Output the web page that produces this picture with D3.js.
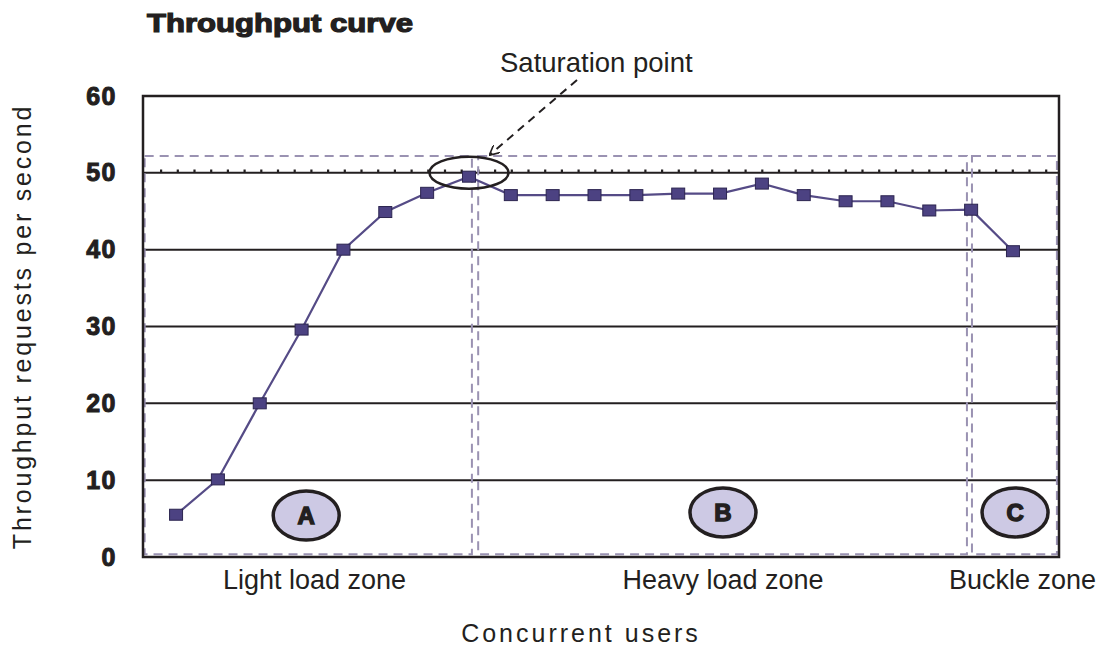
<!DOCTYPE html>
<html>
<head>
<meta charset="utf-8">
<script src="https://cdn.jsdelivr.net/npm/d3@7"></script>
<style>
  body { margin: 0; background: #fff; }
  svg { display: block; }
</style>
</head>
<body>
<div id="myChart"></div>
<script>
// data
const users = d3.range(1, 22); // 21 measurement steps
const throughput = [5.5, 10.1, 20, 29.6, 40, 44.9, 47.4, 49.5, 47.1, 47.1, 47.1, 47.1,
  47.3, 47.3, 48.6, 47.1, 46.3, 46.3, 45.1, 45.2, 39.8];
const yTicks = [0, 10, 20, 30, 40, 50, 60];
const capacity = 50;

// zones in data units: [from step, to step]
const zoneNames = ['Light load zone', 'Heavy load zone', 'Buckle zone'];
const zoneLetters = ['A', 'B', 'C'];
const zoneSpans = [[0.25, 8.07], [8.22, 19.9], [20.02, 22.05]];
const zoneTop = 52.2, zoneBottom = 0.35;
const letterPos = [[4.11, 5.4], [14.07, 5.8], [21.05, 5.8]];
const zoneLabelX = [4.31, 14.07, 21.23];

const saturationStep = 8;

const width = 1103, height = 655;
const margin = { left: 143, right: 44, top: 96, bottom: 98 };

const svg = d3.select('#myChart')
  .append('svg')
  .attr('width', width)
  .attr('height', height);

const x = d3.scaleLinear()
  .domain([0.21, 22.1])
  .range([margin.left, width - margin.right]);
const y = d3.scaleLinear()
  .domain([0, 60])
  .range([height - margin.bottom, margin.top]);

const ink = '#231f20';
const purple = '#4c4282';

// title
svg.append('text')
  .attr('x', 147).attr('y', 32)
  .attr('font-family', 'Liberation Sans, Arial, sans-serif')
  .attr('font-weight', 'bold')
  .attr('font-size', 25)
  .attr('textLength', 266)
  .attr('lengthAdjust', 'spacingAndGlyphs')
  .attr('fill', ink).attr('stroke', ink).attr('stroke-width', 1.2)
  .text('Throughput curve');

// horizontal gridlines
svg.append('g')
  .selectAll('line')
  .data(yTicks.filter(d => d > 0 && d < 60))
  .enter()
  .append('line')
  .attr('x1', x.range()[0]).attr('x2', x.range()[1])
  .attr('y1', d => y(d)).attr('y2', d => y(d))
  .attr('stroke', ink)
  .attr('stroke-width', 2);

// little dots sitting on the 50 line
svg.append('line')
  .attr('x1', x.range()[0] + 17).attr('x2', x.range()[1])
  .attr('y1', y(capacity) - 2.2).attr('y2', y(capacity) - 2.2)
  .attr('stroke', ink)
  .attr('stroke-width', 2.5)
  .attr('stroke-dasharray', '2.2 14.5');

// y tick labels
svg.append('g')
  .selectAll('text')
  .data(yTicks)
  .enter()
  .append('text')
  .attr('x', 117)
  .attr('y', d => y(d) + 8.5)
  .attr('text-anchor', 'end')
  .attr('font-family', 'Liberation Sans, Arial, sans-serif')
  .attr('font-weight', 'bold')
  .attr('font-size', 25)
  .attr('letter-spacing', 1.5)
  .attr('fill', ink).attr('stroke', ink).attr('stroke-width', 1)
  .text(d => d);

// zone boxes
svg.append('g')
  .selectAll('rect')
  .data(zoneSpans)
  .enter()
  .append('rect')
  .attr('x', d => x(d[0]))
  .attr('width', d => x(d[1]) - x(d[0]))
  .attr('y', y(zoneTop))
  .attr('height', y(zoneBottom) - y(zoneTop))
  .attr('fill', 'none')
  .attr('stroke', '#9a92b2')
  .attr('stroke-width', 2)
  .attr('stroke-dasharray', '9 6');

// plot frame
svg.append('rect')
  .attr('x', x.range()[0]).attr('y', y(60))
  .attr('width', x.range()[1] - x.range()[0])
  .attr('height', y(0) - y(60))
  .attr('fill', 'none')
  .attr('stroke', ink)
  .attr('stroke-width', 2.5);

// zone letters
const letters = svg.append('g')
  .selectAll('g')
  .data(zoneLetters)
  .enter()
  .append('g')
  .attr('transform', (d, i) => 'translate(' + x(letterPos[i][0]) + ',' + y(letterPos[i][1]) + ')');
letters.append('ellipse')
  .attr('rx', 33).attr('ry', 24.5)
  .attr('fill', '#cdc9e4')
  .attr('stroke', ink)
  .attr('stroke-width', 3.5);
letters.append('text')
  .attr('y', 8.5)
  .attr('text-anchor', 'middle')
  .attr('font-family', 'Liberation Sans, Arial, sans-serif')
  .attr('font-weight', 'bold')
  .attr('font-size', 24)
  .attr('fill', ink).attr('stroke', ink).attr('stroke-width', 1.4)
  .text(d => d);

// the curve
const line = d3.line()
  .x((d, i) => x(users[i]))
  .y(d => y(d));

svg.append('path')
  .datum(throughput)
  .attr('d', line)
  .attr('fill', 'none')
  .attr('stroke', '#554b86')
  .attr('stroke-width', 2.2);

svg.append('g')
  .selectAll('rect')
  .data(throughput)
  .enter()
  .append('rect')
  .attr('x', (d, i) => x(users[i]) - 6.5)
  .attr('y', d => y(d) - 5.5)
  .attr('width', 13).attr('height', 11)
  .attr('fill', purple)
  .attr('stroke', '#2c2550')
  .attr('stroke-width', 1);

// saturation annotation
const satX = x(saturationStep), satY = y(throughput[saturationStep - 1]) - 4;
svg.append('ellipse')
  .attr('cx', satX).attr('cy', satY)
  .attr('rx', 39.5).attr('ry', 16)
  .attr('fill', 'none')
  .attr('stroke', ink)
  .attr('stroke-width', 2.5);

svg.append('defs').append('marker')
  .attr('id', 'arrow')
  .attr('viewBox', '0 0 10 10')
  .attr('refX', 9).attr('refY', 5)
  .attr('markerWidth', 5).attr('markerHeight', 5)
  .attr('markerUnits', 'strokeWidth')
  .attr('orient', 'auto')
  .append('path')
  .attr('d', 'M0,0 L10,5 L0,10')
  .attr('fill', 'none')
  .attr('stroke', ink)
  .attr('stroke-width', 1.6);

svg.append('line')
  .attr('x1', 577).attr('y1', 80)
  .attr('x2', satX + 21).attr('y2', satY - 18)
  .attr('stroke', ink)
  .attr('stroke-width', 2)
  .attr('stroke-dasharray', '8 6')
  .attr('marker-end', 'url(#arrow)');

svg.append('text')
  .attr('x', 500).attr('y', 72)
  .attr('font-family', 'Liberation Sans, Arial, sans-serif')
  .attr('font-size', 27.5)
  .attr('fill', ink)
  .text('Saturation point');

// zone names under the axis
svg.append('g')
  .selectAll('text')
  .data(zoneNames)
  .enter()
  .append('text')
  .attr('x', (d, i) => x(zoneLabelX[i]))
  .attr('y', 589)
  .attr('text-anchor', 'middle')
  .attr('font-family', 'Liberation Sans, Arial, sans-serif')
  .attr('font-size', 27)
  .attr('fill', ink)
  .text(d => d);

// axis titles
svg.append('text')
  .attr('x', 581).attr('y', 642)
  .attr('text-anchor', 'middle')
  .attr('font-family', 'Liberation Sans, Arial, sans-serif')
  .attr('font-size', 25)
  .attr('letter-spacing', 3)
  .attr('fill', ink)
  .text('Concurrent users');

svg.append('text')
  .attr('transform', 'translate(31,' + y(30) + ') rotate(-90)')
  .attr('text-anchor', 'middle')
  .attr('font-family', 'Liberation Sans, Arial, sans-serif')
  .attr('font-size', 25)
  .attr('letter-spacing', 2.8)
  .attr('fill', ink)
  .text('Throughput requests per second');
</script>
</body>
</html>
